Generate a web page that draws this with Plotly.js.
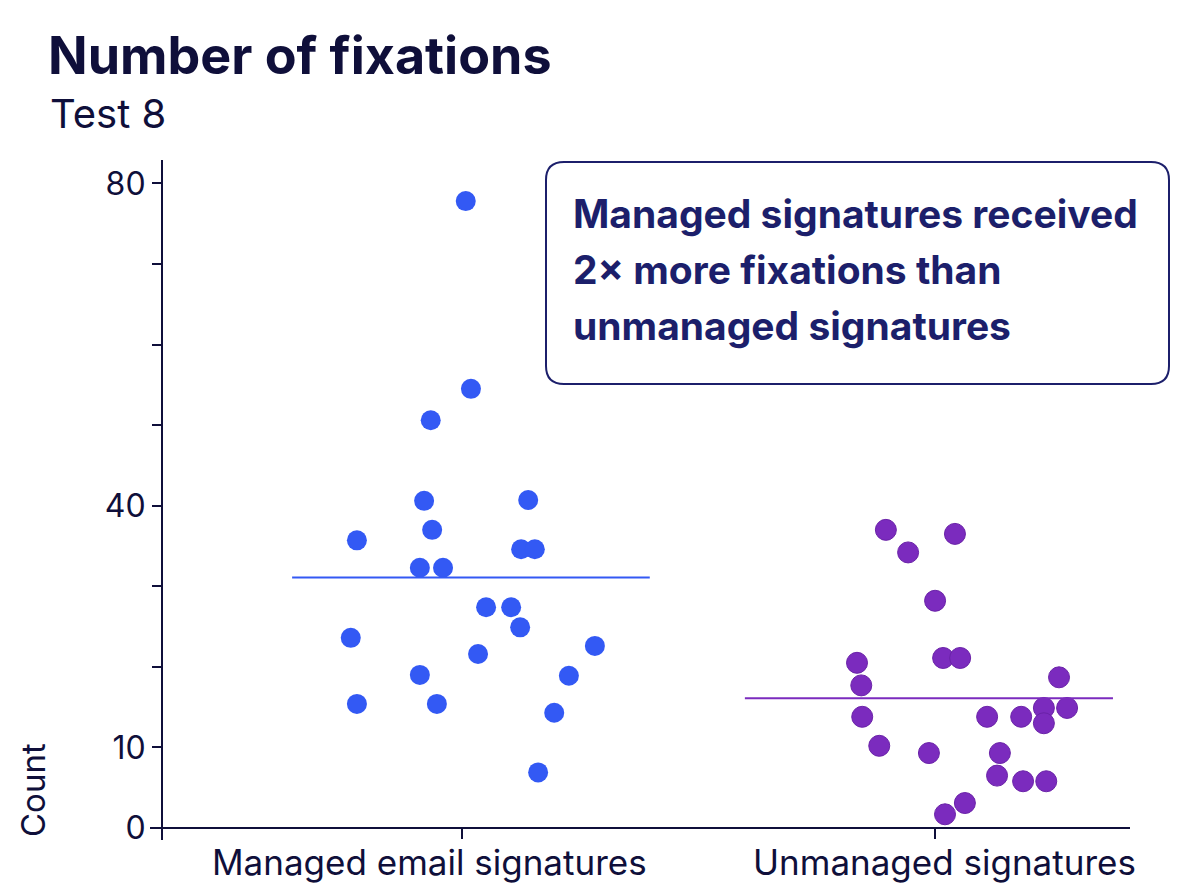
<!DOCTYPE html>
<html>
<head>
<meta charset="utf-8">
<script src="https://cdn.plot.ly/plotly-3.0.1.min.js"></script>
<style>html,body{margin:0;padding:0;background:#fff;}#chart{width:1199px;height:896px;}</style>
</head>
<body>
<div id="chart"></div>
<script>
// ---- data ----
const categories = ["Managed email signatures", "Unmanaged signatures"];

// horizontal jitter (in category units) and counts for each point
const managedJitter = [0.008, 0.019, -0.066, -0.080, 0.140, -0.063, -0.222, 0.125, 0.154, -0.089, -0.040, 0.051, 0.104, 0.123, -0.235, 0.281, 0.034, -0.089, 0.226, -0.222, -0.053, 0.195, 0.161];
const managedCounts = [77.8, 54.5, 50.6, 40.6, 40.7, 37.0, 35.7, 34.6, 34.6, 32.3, 32.3, 27.4, 27.4, 24.9, 23.6, 22.6, 21.6, 19.0, 18.9, 15.4, 15.4, 14.3, 6.9];

const unmanagedJitter = [-0.104, -0.057, 0.042, 0.000, 0.017, 0.053, -0.165, -0.156, 0.262, -0.154, 0.110, 0.182, 0.230, 0.279, 0.230, -0.118, -0.013, 0.137, 0.131, 0.186, 0.235, 0.063, 0.021];
const unmanagedCounts = [37.0, 34.2, 36.5, 28.2, 21.1, 21.1, 20.5, 17.7, 18.7, 13.8, 13.8, 13.8, 14.9, 14.9, 13.0, 10.2, 9.3, 9.3, 6.5, 5.8, 5.8, 3.1, 1.7];

// mean lines (value, extent in category units)
const meanValues = [31.1, 16.1];
const meanExtent = [[-0.359, 0.397], [-0.402, 0.376]];

const yTickVals = [0, 10, 20, 30, 40, 50, 60, 70, 80];
const yTickText = ["0", "10", "", "", "40", "", "", "", "80"];

const annotationLines = ["Managed signatures received", "2× more fixations than", "unmanaged signatures"];

// ---- styling ----
const FONT = "Inter, 'Open Sans', sans-serif";
const DARK = "#0f0f3a";
const NAVY = "#1c1f6b";
const BLUE = "#3359f4";
const PURPLE = "#7b2bbe";

const traces = [
  {
    type: "scatter", mode: "markers", name: categories[0],
    x: managedJitter.map(j => 0 + j), y: managedCounts,
    marker: {color: BLUE, size: 20, line: {width: 0}},
    cliponaxis: false, hoverinfo: "y"
  },
  {
    type: "scatter", mode: "markers", name: categories[1],
    x: unmanagedJitter.map(j => 1 + j), y: unmanagedCounts,
    marker: {color: PURPLE, size: 21, line: {width: 1, color: "#6a22a8"}},
    cliponaxis: false, hoverinfo: "y"
  },
  {
    type: "scatter", mode: "lines", name: "mean managed",
    x: [0 + meanExtent[0][0], 0 + meanExtent[0][1]], y: [meanValues[0], meanValues[0]],
    line: {color: BLUE, width: 2}, hoverinfo: "skip"
  },
  {
    type: "scatter", mode: "lines", name: "mean unmanaged",
    x: [1 + meanExtent[1][0], 1 + meanExtent[1][1]], y: [meanValues[1], meanValues[1]],
    line: {color: PURPLE, width: 2}, hoverinfo: "skip"
  }
];

// plot area: x 162..1130 px, y 160..828 px
const PW = 968, PH = 668;
function px(xp) { return (xp - 162) / PW; }
function py(yp) { return (828 - yp) / PH; }

// rounded box path in paper coords
const bx0 = px(546), bx1 = px(1169), by0 = py(384), by1 = py(162);
const rx = 18 / PW, ry = 18 / PH;
const boxPath = `M ${bx0 + rx},${by1} L ${bx1 - rx},${by1} Q ${bx1},${by1} ${bx1},${by1 - ry} ` +
  `L ${bx1},${by0 + ry} Q ${bx1},${by0} ${bx1 - rx},${by0} L ${bx0 + rx},${by0} ` +
  `Q ${bx0},${by0} ${bx0},${by0 + ry} L ${bx0},${by1 - ry} Q ${bx0},${by1} ${bx0 + rx},${by1} Z`;

const annLineY = [213, 269, 325];
const catLabelX = [429, 944];

const annotations = [
  {
    xref: "paper", yref: "paper", x: px(48), y: py(113), xanchor: "left", yanchor: "middle",
    text: "Test 8", showarrow: false, font: {family: FONT, size: 40, color: DARK}
  },
  {
    xref: "paper", yref: "paper", x: px(33), y: py(790), xanchor: "center", yanchor: "middle",
    text: "Count", textangle: -90, showarrow: false, font: {family: FONT, size: 33, color: DARK}
  }
].concat(annotationLines.map((t, i) => ({
  xref: "paper", yref: "paper", x: px(571), y: py(annLineY[i]), xanchor: "left", yanchor: "middle",
  text: "<b>" + t + "</b>", showarrow: false, font: {family: FONT, size: 39, color: NAVY}
}))).concat(categories.map((c, i) => ({
  xref: "paper", yref: "paper", x: px(catLabelX[i]), y: py(862), xanchor: "center", yanchor: "middle",
  text: c, showarrow: false, font: {family: FONT, size: 35, color: DARK}
})));

const layout = {
  width: 1199, height: 896,
  margin: {l: 162, r: 69, t: 160, b: 68},
  paper_bgcolor: "#ffffff", plot_bgcolor: "#ffffff",
  showlegend: false,
  font: {family: FONT, color: DARK},
  title: {
    text: "<b>Number of fixations</b>",
    font: {family: FONT, size: 52, color: DARK},
    x: 48 / 1199, xanchor: "left", xref: "container",
    y: 1 - 56 / 896, yanchor: "middle", yref: "container"
  },
  xaxis: {
    range: [-0.634, 1.412],
    tickmode: "array", tickvals: [0, 1], ticktext: categories,
    showticklabels: false,
    ticks: "outside", ticklen: 10, tickwidth: 2, tickcolor: DARK,
    showgrid: false, zeroline: false, showline: false
  },
  yaxis: {
    range: [0, 82.9],
    tickmode: "array", tickvals: yTickVals, ticktext: yTickText,
    ticks: "outside", ticklen: 9, tickwidth: 2, tickcolor: DARK,
    tickfont: {family: FONT, size: 32, color: DARK},
    showgrid: false, zeroline: false, showline: false
  },
  shapes: [
    {type: "line", xref: "paper", yref: "paper", x0: -12 / PW, x1: 1, y0: 0, y1: 0, line: {color: DARK, width: 2}},
    {type: "line", xref: "paper", yref: "paper", x0: 0, x1: 0, y0: -12 / PH, y1: 1, line: {color: DARK, width: 2}},
    {type: "path", xref: "paper", yref: "paper", path: boxPath, line: {color: NAVY, width: 2}, fillcolor: "rgba(0,0,0,0)"}
  ],
  annotations: annotations
};

Plotly.newPlot("chart", traces, layout, {displayModeBar: false, staticPlot: true});
</script>
</body>
</html>
